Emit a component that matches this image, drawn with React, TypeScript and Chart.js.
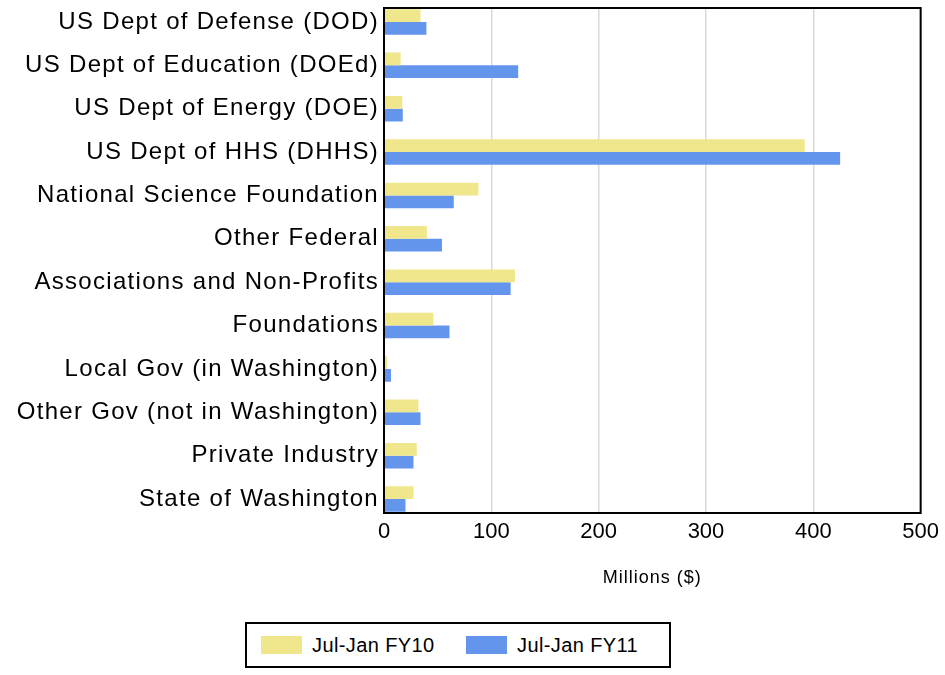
import React, { useEffect, useRef } from "react";
import { Chart, registerables } from "chart.js";

Chart.register(...registerables);

const categories = [
  "US Dept of Defense (DOD)",
  "US Dept of Education (DOEd)",
  "US Dept of Energy (DOE)",
  "US Dept of HHS (DHHS)",
  "National Science Foundation",
  "Other Federal",
  "Associations and Non-Profits",
  "Foundations",
  "Local Gov (in Washington)",
  "Other Gov (not in Washington)",
  "Private Industry",
  "State of Washington",
];
const fy10 = [34, 15.5, 17, 392, 88, 40, 122, 46, 3, 32, 30.5, 27.5];
const fy11 = [39.5, 125, 17.5, 425, 65, 54, 118, 61, 6.5, 34, 27.5, 20];
const seriesNames = ["Jul-Jan FY10", "Jul-Jan FY11"];
const colors = ["#F0E68C", "#6495ED"];
const xTicks = [0, 100, 200, 300, 400, 500];

const FONT = "'Liberation Sans', Arial, sans-serif";

const frame = {
  id: "frame",
  afterDraw(chart: any) {
    const { ctx, chartArea: a } = chart;
    ctx.save();
    ctx.strokeStyle = "#000";
    ctx.lineWidth = 2;
    ctx.strokeRect(a.left, a.top, a.right - a.left, a.bottom - a.top);
    ctx.restore();
  },
};

function withSpacing(scale: any, key: string, spacing: string) {
  if (scale["_sp_" + key]) return;
  const orig = scale[key].bind(scale);
  scale[key] = (...args: any[]) => {
    const ctx = scale.ctx;
    ctx.save();
    ctx.letterSpacing = spacing;
    orig(...args);
    ctx.restore();
  };
  scale["_sp_" + key] = true;
}

const toPoints = (vals: number[]) => vals.map((v, i) => ({ x: v, y: i }));

export default function App() {
  const ref = useRef<HTMLCanvasElement>(null);
  useEffect(() => {
    const chart = new Chart(ref.current!, {
      type: "bar",
      data: {
        datasets: [
          { label: seriesNames[0], data: toPoints(fy10), backgroundColor: colors[0], barPercentage: 1, categoryPercentage: 0.587 },
          { label: seriesNames[1], data: toPoints(fy11), backgroundColor: colors[1], barPercentage: 1, categoryPercentage: 0.587 },
        ],
      },
      options: {
        indexAxis: "y",
        animation: false,
        responsive: false,
        layout: { padding: { top: 8, right: 24, left: 0, bottom: 0 } },
        plugins: { legend: { display: false }, tooltip: { enabled: false } },
        scales: {
          x: {
            type: "linear",
            min: xTicks[0],
            max: xTicks[xTicks.length - 1],
            afterBuildTicks(scale: any) {
              scale.ticks = xTicks.map((v) => ({ value: v }));
            },
            ticks: { color: "#000", font: { family: FONT, size: 22 }, padding: 6 },
            grid: { color: "#d9d9d9", lineWidth: 1.5, drawTicks: false },
            border: { display: false },
            title: { display: true, text: "Millions ($)", color: "#000", font: { family: FONT, size: 18 }, padding: { top: 0, bottom: 11 } },
            afterFit(scale: any) {
              scale.height = 87;
              withSpacing(scale, "drawTitle", "1px");
            },
          },
          y: {
            type: "linear",
            reverse: true,
            offset: false,
            min: -0.322,
            max: categories.length - 1 + 0.322,
            afterBuildTicks(scale: any) {
              scale.ticks = categories.map((_, i) => ({ value: i }));
            },
            ticks: {
              color: "#000",
              font: { family: FONT, size: 24 },
              padding: 5,
              autoSkip: false,
              callback: (v: any) => categories[v as number],
            },
            grid: { display: false, drawTicks: false, offset: false },
            border: { display: false },
            afterFit(scale: any) {
              scale.width = 384;
              scale.paddingTop = 0;
              scale.paddingBottom = 0;
              withSpacing(scale, "drawLabels", "1.3px");
            },
          },
        },
      },
      plugins: [frame],
    });
    return () => chart.destroy();
  }, []);

  return (
    <div style={{ position: "absolute", left: 0, top: 0, width: 945, height: 675, background: "#fff" }}>
      <canvas ref={ref} width={945} height={600} style={{ position: "absolute", left: 0, top: 0 }} />
      <div
        style={{
          position: "absolute",
          left: 245,
          top: 622,
          width: 422,
          height: 42,
          border: "2px solid #000",
          fontFamily: FONT,
          fontSize: 20,
          letterSpacing: "0.4px",
          color: "#000",
        }}
      >
        {seriesNames.map((n, i) => (
          <div key={n} style={{ position: "absolute", left: i === 0 ? 14 : 219, top: 0, height: 42, display: "flex", alignItems: "center" }}>
            <span style={{ display: "inline-block", width: 41, height: 18, background: colors[i], marginRight: 10 }} />
            <span>{n}</span>
          </div>
        ))}
      </div>
    </div>
  );
}
